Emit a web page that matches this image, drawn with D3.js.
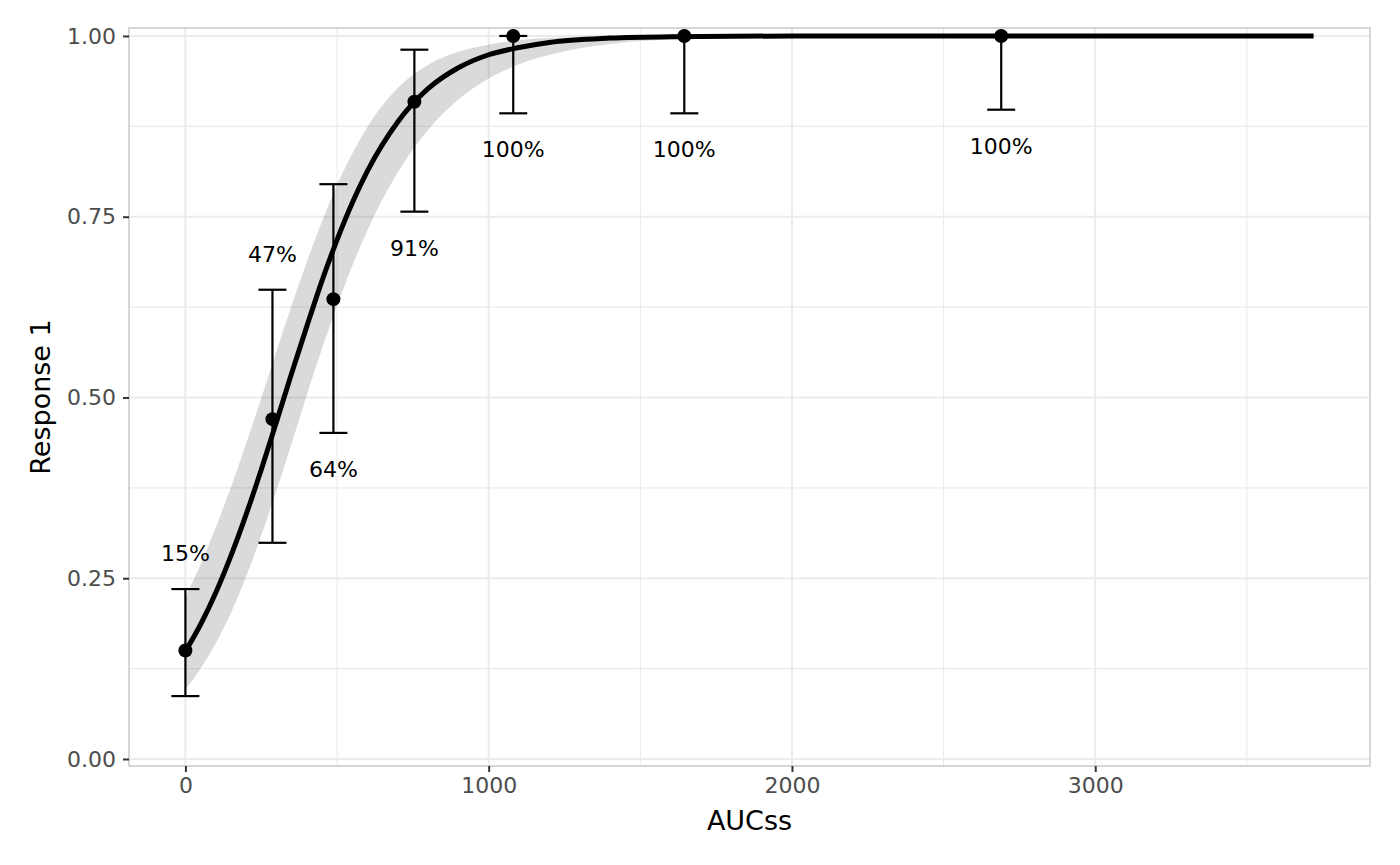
<!DOCTYPE html>
<html>
<head>
<meta charset="utf-8">
<script src="https://cdn.jsdelivr.net/npm/d3@7"></script>
<style>
  html, body { margin: 0; padding: 0; background: #ffffff; }
  svg { display: block; font-family: "DejaVu Sans", sans-serif; }
</style>
</head>
<body>
<svg id="chart" width="1400" height="865"></svg>
<script>
// ---- observed data (points with 95% CI) ----
const auc      = [0, 287, 488, 755, 1081, 1645, 2690];
const response = [0.15, 0.47, 0.636, 0.909, 1.0, 1.0, 1.0];
const lower    = [0.087, 0.299, 0.451, 0.757, 0.893, 0.893, 0.898];
const upper    = [0.235, 0.649, 0.795, 0.981, 1.0, 1.0, 1.0];
const pctLabels = ["15%", "47%", "64%", "91%", "100%", "100%", "100%"];
const labelSide = ["above", "above", "below", "below", "below", "below", "below"];

// ---- fitted curve and confidence band ----
const fitX  = [0, 50, 100, 150, 200, 250, 300, 350, 400, 450, 500, 550, 600, 700, 800, 900, 1000, 1100, 1200, 1400, 1600, 2000, 2500, 3000, 3720];
const fitY  = [0.149, 0.186, 0.230, 0.281, 0.338, 0.400, 0.466, 0.533, 0.598, 0.661, 0.718, 0.769, 0.813, 0.881, 0.927, 0.956, 0.974, 0.984, 0.991, 0.997, 0.999, 1.0, 1.0, 1.0, 1.0];
const fitLo = [0.096, 0.125, 0.160, 0.202, 0.252, 0.309, 0.371, 0.436, 0.503, 0.567, 0.627, 0.682, 0.731, 0.811, 0.870, 0.912, 0.941, 0.961, 0.974, 0.989, 0.995, 0.999, 1.0, 1.0, 1.0];
const fitHi = [0.224, 0.269, 0.320, 0.376, 0.436, 0.499, 0.564, 0.627, 0.687, 0.743, 0.794, 0.837, 0.874, 0.928, 0.960, 0.978, 0.988, 0.994, 0.997, 0.999, 1.0, 1.0, 1.0, 1.0, 1.0];

// ---- axes ----
const xTicks = [0, 1000, 2000, 3000];
const xMinor = [500, 1500, 2500, 3500];
const yTicks = [0, 0.25, 0.5, 0.75, 1.0];
const yMinor = [0.125, 0.375, 0.625, 0.875];
const xTitle = "AUCss";
const yTitle = "Response 1";

const panel = { left: 129, right: 1370, top: 28, bottom: 766 };
const svg = d3.select("#chart");

const x = d3.scaleLinear().domain([-186, 3906]).range([panel.left, panel.right]);
const y = d3.scaleLinear().domain([-0.0097, 1.011]).range([panel.bottom, panel.top]);

// panel background
svg.append("rect")
  .attr("x", panel.left).attr("y", panel.top)
  .attr("width", panel.right - panel.left).attr("height", panel.bottom - panel.top)
  .attr("fill", "#ffffff");

const grid = svg.append("g");
// minor grid
grid.selectAll(".xm").data(xMinor).join("line")
  .attr("x1", d => x(d)).attr("x2", d => x(d))
  .attr("y1", panel.top).attr("y2", panel.bottom)
  .attr("stroke", "#EBEBEB").attr("stroke-width", 1.1);
grid.selectAll(".ym").data(yMinor).join("line")
  .attr("y1", d => y(d)).attr("y2", d => y(d))
  .attr("x1", panel.left).attr("x2", panel.right)
  .attr("stroke", "#EBEBEB").attr("stroke-width", 1.1);
// major grid
grid.selectAll(".xM").data(xTicks).join("line")
  .attr("x1", d => x(d)).attr("x2", d => x(d))
  .attr("y1", panel.top).attr("y2", panel.bottom)
  .attr("stroke", "#EBEBEB").attr("stroke-width", 2);
grid.selectAll(".yM").data(yTicks).join("line")
  .attr("y1", d => y(d)).attr("y2", d => y(d))
  .attr("x1", panel.left).attr("x2", panel.right)
  .attr("stroke", "#EBEBEB").attr("stroke-width", 2);

// fit data rows
const fit = fitX.map((v, i) => ({ x: v, y: fitY[i], lo: fitLo[i], hi: fitHi[i] }));

// ribbon
svg.append("path")
  .datum(fit)
  .attr("d", d3.area().x(d => x(d.x)).y0(d => y(d.lo)).y1(d => y(d.hi)).curve(d3.curveMonotoneX))
  .attr("fill", "#333333").attr("fill-opacity", 0.18);

// fitted line
svg.append("path")
  .datum(fit)
  .attr("d", d3.line().x(d => x(d.x)).y(d => y(d.y)).curve(d3.curveMonotoneX))
  .attr("fill", "none").attr("stroke", "#000000").attr("stroke-width", 5);

// observed rows
const obs = auc.map((v, i) => ({ x: v, y: response[i], lo: lower[i], hi: upper[i], lab: pctLabels[i], side: labelSide[i] }));

const eb = svg.append("g").attr("stroke", "#000000").attr("stroke-width", 2.2).attr("fill", "none");
const capHalf = 14;
eb.selectAll(".v").data(obs).join("line")
  .attr("x1", d => x(d.x)).attr("x2", d => x(d.x))
  .attr("y1", d => y(d.lo)).attr("y2", d => y(d.hi));
eb.selectAll(".cl").data(obs).join("line")
  .attr("x1", d => x(d.x) - capHalf).attr("x2", d => x(d.x) + capHalf)
  .attr("y1", d => y(d.lo)).attr("y2", d => y(d.lo));
eb.selectAll(".ch").data(obs).join("line")
  .attr("x1", d => x(d.x) - capHalf).attr("x2", d => x(d.x) + capHalf)
  .attr("y1", d => y(d.hi)).attr("y2", d => y(d.hi));

// points
svg.append("g").selectAll("circle").data(obs).join("circle")
  .attr("cx", d => x(d.x)).attr("cy", d => y(d.y)).attr("r", 7)
  .attr("fill", "#000000");

// percent labels
const labelOffset = 0.05;
svg.append("g").selectAll("text").data(obs).join("text")
  .attr("x", d => x(d.x))
  .attr("y", d => y(d.side === "above" ? d.hi + labelOffset : d.lo - labelOffset))
  .attr("dy", "0.36em")
  .attr("text-anchor", "middle")
  .attr("font-size", 22)
  .attr("fill", "#000000")
  .text(d => d.lab);

// panel border
svg.append("rect")
  .attr("x", panel.left).attr("y", panel.top)
  .attr("width", panel.right - panel.left).attr("height", panel.bottom - panel.top)
  .attr("fill", "none").attr("stroke", "#CCCCCC").attr("stroke-width", 1.6);

// x axis
const xAxis = svg.append("g").attr("transform", `translate(0,${panel.bottom})`)
  .call(d3.axisBottom(x).tickValues(xTicks).tickFormat(d3.format("d")).tickSize(6).tickPadding(5));
xAxis.select(".domain").remove();
xAxis.selectAll(".tick line").attr("stroke", "#333333").attr("stroke-width", 2);
xAxis.selectAll(".tick text").attr("fill", "#4D4D4D").attr("font-size", 22)
  .attr("font-family", "DejaVu Sans, sans-serif");

// y axis
const yAxis = svg.append("g").attr("transform", `translate(${panel.left},0)`)
  .call(d3.axisLeft(y).tickValues(yTicks).tickFormat(d3.format(".2f")).tickSize(6).tickPadding(7));
yAxis.select(".domain").remove();
yAxis.selectAll(".tick line").attr("stroke", "#333333").attr("stroke-width", 2);
yAxis.selectAll(".tick text").attr("fill", "#4D4D4D").attr("font-size", 22)
  .attr("font-family", "DejaVu Sans, sans-serif");

// titles
svg.append("text")
  .attr("x", (panel.left + panel.right) / 2).attr("y", 830)
  .attr("text-anchor", "middle").attr("font-size", 27).attr("fill", "#000000")
  .text(xTitle);
svg.append("text")
  .attr("transform", `translate(50,${(panel.top + panel.bottom) / 2}) rotate(-90)`)
  .attr("text-anchor", "middle").attr("font-size", 27).attr("fill", "#000000")
  .text(yTitle);
</script>
</body>
</html>
